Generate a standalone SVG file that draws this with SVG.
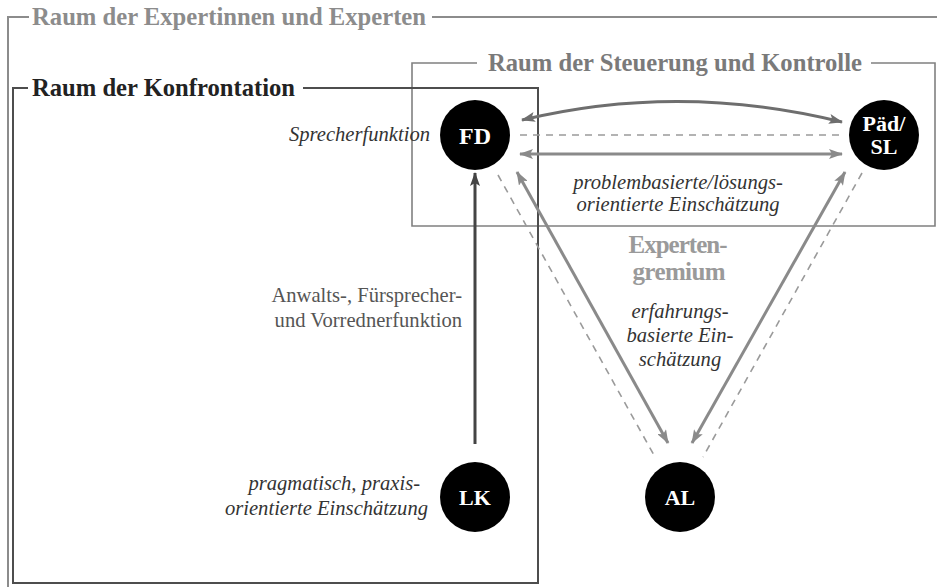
<svg xmlns="http://www.w3.org/2000/svg" width="937" height="587" viewBox="0 0 937 587">
  <style>
    .frame { fill: none; }
    .title { font-family: "Liberation Serif", "Times New Roman", serif; font-weight: bold; font-size: 25px; }
    .note { font-family: "Liberation Serif", "Times New Roman", serif; font-style: italic; font-size: 20.6px; fill: #333; }
    .plain { font-family: "Liberation Serif", "Times New Roman", serif; font-size: 20.6px; fill: #555; }
    .node circle { fill: #000; }
    .node text { font-family: "Liberation Serif", "Times New Roman", serif; font-weight: bold; fill: #fff; text-anchor: middle; }
    .solid { fill: none; stroke-width: 3; }
    .dash { fill: none; stroke: #9a9a9a; stroke-width: 1.6; stroke-dasharray: 7 6; }
  </style>
  <defs>
    <marker id="headMid" viewBox="0 0 14 10" refX="13" refY="5" markerWidth="14" markerHeight="10" markerUnits="userSpaceOnUse" orient="auto-start-reverse">
      <path d="M0,0 L14,5 L0,10 L3,5 Z" fill="#6e6e6e"/>
    </marker>
    <marker id="headLight" viewBox="0 0 14 10" refX="13" refY="5" markerWidth="14" markerHeight="10" markerUnits="userSpaceOnUse" orient="auto-start-reverse">
      <path d="M0,0 L14,5 L0,10 L3,5 Z" fill="#8a8a8a"/>
    </marker>
    <marker id="headDark" viewBox="0 0 14 10" refX="13" refY="5" markerWidth="14" markerHeight="10" markerUnits="userSpaceOnUse" orient="auto-start-reverse">
      <path d="M0,0 L14,5 L0,10 L3,5 Z" fill="#444"/>
    </marker>
  </defs>

  <rect width="937" height="587" fill="#fff"/>

  <!-- Space frames -->
  <g id="raum-experten">
    <path class="frame" d="M8,587 V17 H29 M432,17 H937" stroke="#8c8c8c" stroke-width="2"/>
    <text class="title" x="32" y="25" fill="#8c8c8c" textLength="394" lengthAdjust="spacingAndGlyphs">Raum der Expertinnen und Experten</text>
  </g>
  <g id="raum-steuerung">
    <path class="frame" d="M477,63 H412 V226 H935 V63 H871" stroke="#808080" stroke-width="1.6"/>
    <text class="title" x="488" y="71" fill="#7a7a7a" textLength="374" lengthAdjust="spacingAndGlyphs">Raum der Steuerung und Kontrolle</text>
  </g>
  <g id="raum-konfrontation">
    <path class="frame" d="M28,88 H13 V583 H538 V88 H303" stroke="#4d4d4d" stroke-width="2"/>
    <text class="title" x="32" y="96" fill="#222" textLength="263" lengthAdjust="spacingAndGlyphs">Raum der Konfrontation</text>
  </g>

  <!-- Connectors -->
  <g id="connectors">
    <path class="solid" d="M522,120 Q680,82 842,122" stroke="#6e6e6e" marker-start="url(#headMid)" marker-end="url(#headMid)"/>
    <line class="dash" x1="520" y1="135" x2="840" y2="135"/>
    <line class="solid" x1="520" y1="154" x2="842" y2="154" stroke="#8a8a8a" marker-start="url(#headLight)" marker-end="url(#headLight)"/>
    <line class="solid" x1="475" y1="444" x2="475" y2="173" stroke="#444" marker-end="url(#headDark)"/>
    <line class="solid" x1="517" y1="172" x2="668" y2="443" stroke="#8a8a8a" marker-start="url(#headLight)" marker-end="url(#headLight)"/>
    <line class="solid" x1="845" y1="172" x2="692" y2="443" stroke="#8a8a8a" marker-start="url(#headLight)" marker-end="url(#headLight)"/>
    <line class="dash" x1="498" y1="175" x2="655" y2="457"/>
    <line class="dash" x1="862" y1="173" x2="703" y2="457"/>
  </g>

  <!-- Labels -->
  <g id="labels">
    <text class="note" x="430" y="141" text-anchor="end">Sprecherfunktion</text>
    <text class="note" x="678" y="189" text-anchor="middle">problembasierte/lösungs-</text>
    <text class="note" x="678" y="211" text-anchor="middle">orientierte Einschätzung</text>
    <text class="plain" x="462" y="302" text-anchor="end">Anwalts-, Fürsprecher-</text>
    <text class="plain" x="462" y="327" text-anchor="end">und Vorrednerfunktion</text>
    <text class="title" x="678" y="253" fill="#9a9a9a" text-anchor="middle" font-size="21" textLength="99" lengthAdjust="spacing">Experten-</text>
    <text class="title" x="679" y="280" fill="#9a9a9a" text-anchor="middle" font-size="21" textLength="93" lengthAdjust="spacing">gremium</text>
    <text class="note" x="680" y="318" text-anchor="middle">erfahrungs-</text>
    <text class="note" x="680" y="342" text-anchor="middle">basierte Ein-</text>
    <text class="note" x="680" y="366" text-anchor="middle">schätzung</text>
    <text class="note" x="420" y="490" text-anchor="end">pragmatisch, praxis-</text>
    <text class="note" x="428" y="515" text-anchor="end">orientierte Einschätzung</text>
  </g>

  <!-- Nodes -->
  <g id="FD" class="node">
    <circle cx="475" cy="135" r="35"/>
    <text x="475" y="144" font-size="24">FD</text>
  </g>
  <g id="PaedSL" class="node">
    <circle cx="884" cy="135" r="35"/>
    <text x="884" y="131" font-size="22">Päd/</text>
    <text x="884" y="154" font-size="22">SL</text>
  </g>
  <g id="LK" class="node">
    <circle cx="475" cy="497" r="35"/>
    <text x="475" y="505" font-size="22">LK</text>
  </g>
  <g id="AL" class="node">
    <circle cx="680" cy="497" r="35"/>
    <text x="680" y="505" font-size="22">AL</text>
  </g>
</svg>
